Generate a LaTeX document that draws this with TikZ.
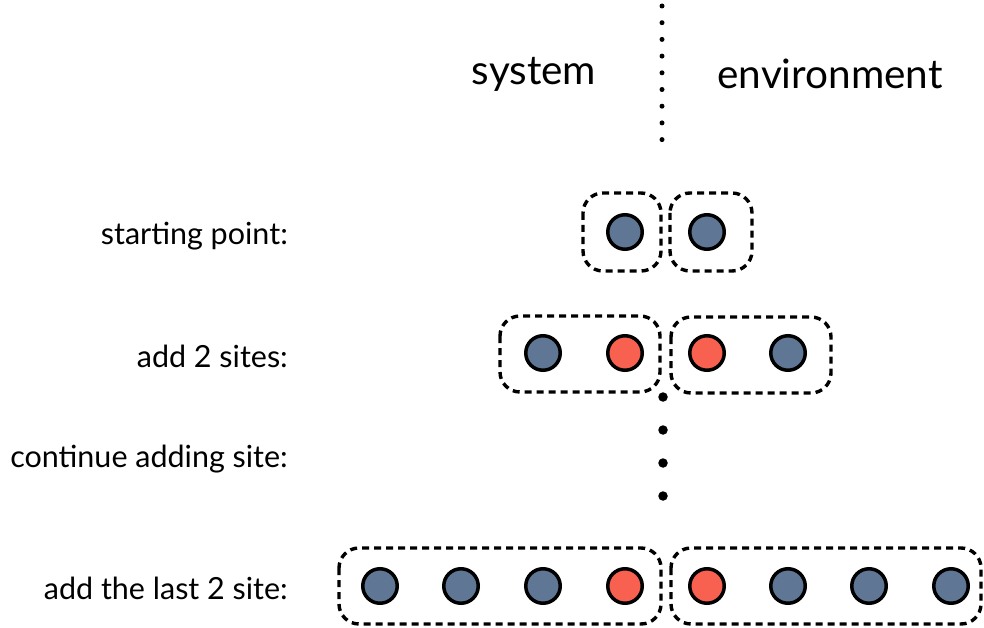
\documentclass[tikz,border=0pt]{standalone}
\usepackage{fontspec}
\setmainfont{Lato}
\definecolor{siteblue}{HTML}{5F7795}
\definecolor{sitered}{HTML}{F86050}
\begin{document}
\begin{tikzpicture}[x=1pt,y=-1pt,
  site/.style={circle,draw=black,line width=3.5pt,minimum size=34.5pt,inner sep=0pt},
  bsite/.style={site,fill=siteblue},
  rsite/.style={site,fill=sitered},
  block/.style={draw=black,line width=3.4pt,dash pattern=on 7pt off 5pt,rounded corners=20pt},
  lab/.style={anchor=east,font=\fontsize{30.5}{36}\selectfont,inner sep=0pt},
  head/.style={font=\fontsize{40.5}{48}\selectfont,inner sep=0pt},
  bigdot/.style={circle,fill=black,minimum size=9.5pt,inner sep=0pt},
  smalldot/.style={circle,fill=black,minimum size=5pt,inner sep=0pt}]
\useasboundingbox (0,0) rectangle (984,628);
% dotted divider
\foreach \i in {0,...,8} \node[smalldot] (v\i) at (662,{6+16.7*\i}) {};
\node[head] (sys) at (534,74) {system};
\node[head] (env) at (830,74) {environment};
% labels
\node[lab] (l1) at (288,236) {starting point:};
\node[lab] (l2) at (288,356) {add 2 sites:};
\node[lab] (l3) at (288,459) {continue adding site:};
\node[lab] (l4) at (288,588) {add the last 2 site:};
% row 1
\draw[block] (583,193) rectangle (661,271);
\draw[block] (670,193) rectangle (752,271);
\node[bsite] (a1) at (625,232) {};
\node[bsite] (a2) at (707,232) {};
% row 2
\draw[block] (500,316) rectangle (660,392);
\draw[block] (671,317) rectangle (831,393);
\node[bsite] (b1) at (543,353) {};
\node[rsite] (b2) at (625,353) {};
\node[rsite] (b3) at (707,353) {};
\node[bsite] (b4) at (788,353) {};
% continuation dots
\node[bigdot] (c1) at (663,397) {};
\node[bigdot] (c2) at (663,430) {};
\node[bigdot] (c3) at (663,463) {};
\node[bigdot] (c4) at (663,496) {};
% row 4
\draw[block] (339,548) rectangle (661,624);
\draw[block] (671,548) rectangle (981,624);
\node[bsite] (d1) at (380,586) {};
\node[bsite] (d2) at (461,586) {};
\node[bsite] (d3) at (543,586) {};
\node[rsite] (d4) at (625,586) {};
\node[rsite] (d5) at (707,586) {};
\node[bsite] (d6) at (788,586) {};
\node[bsite] (d7) at (869,586) {};
\node[bsite] (d8) at (951,586) {};
\end{tikzpicture}
\end{document}
